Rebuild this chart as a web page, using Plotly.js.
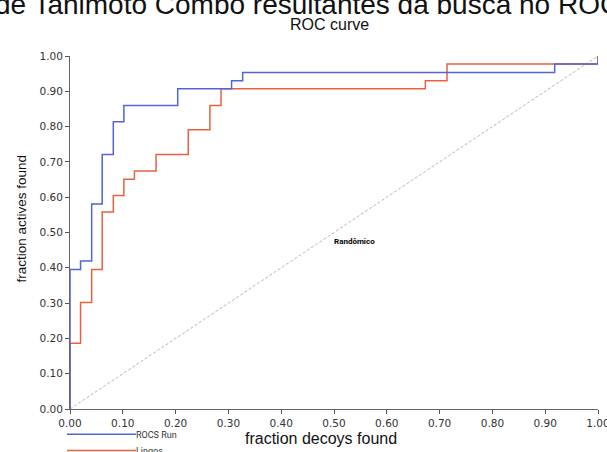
<!DOCTYPE html>
<html>
<head>
<meta charset="utf-8">
<script src="https://cdn.plot.ly/plotly-3.0.1.min.js"></script>
<style>html,body{margin:0;padding:0;background:#fff;}#chart{width:607px;height:452px;}</style>
</head>
<body>
<div id="chart"></div>
<script>
// ROC data
var fprRocs = [0, 0, 0.020, 0.041, 0.061, 0.082, 0.102, 0.204, 0.306, 0.327, 0.918, 1.0];
var tprRocs = [0, 0.395, 0.419, 0.581, 0.721, 0.814, 0.860, 0.907, 0.930, 0.953, 0.977, 1.0];
var fprLingos = [0, 0, 0.020, 0.041, 0.061, 0.082, 0.102, 0.122, 0.163, 0.224, 0.265, 0.286, 0.673, 0.714, 1.0];
var tprLingos = [0, 0.186, 0.302, 0.395, 0.558, 0.605, 0.651, 0.674, 0.721, 0.791, 0.860, 0.907, 0.930, 0.977, 1.0];
var randX = [0, 1];
var randY = [0, 1];
var seriesNames = ["ROCS Run", "Lingos"];
var tickVals = [0, 0.1, 0.2, 0.3, 0.4, 0.5, 0.6, 0.7, 0.8, 0.9, 1.0];

var blue = "#4e66d8";
var red = "#e8623e";

// pixel helpers for paper positioning (plot area 70..598 x 56..409)
var L = 70, R = 9, T = 56, B = 43, W = 607 - L - R, H = 452 - T - B;
function px(x) { return (x - L) / W; }
function py(y) { return (T + H - y) / H; }

var traces = [
  {x: randX, y: randY, mode: "lines", name: "Randômico", line: {color: "#b8b8b8", width: 1, dash: "3px,2px"}, hoverinfo: "skip", showlegend: false},
  {x: fprLingos, y: tprLingos, mode: "lines", name: seriesNames[1], line: {color: red, width: 1.5, shape: "hv"}, showlegend: false},
  {x: fprRocs, y: tprRocs, mode: "lines", name: seriesNames[0], line: {color: blue, width: 1.5, shape: "hv"}, showlegend: false}
];

var tickFont = {family: "DejaVu Sans", size: 10.5, color: "#333"};
var layout = {
  width: 607, height: 452,
  margin: {l: L, r: R, t: T, b: B},
  paper_bgcolor: "#fff", plot_bgcolor: "#fff",
  showlegend: false,
  xaxis: {range: [0, 1], tickvals: tickVals, tickformat: ".2f", showgrid: false, zeroline: false,
          showline: true, linecolor: "#666", linewidth: 1, ticks: "outside", ticklen: 4, tickcolor: "#555",
          tickfont: tickFont, ticklabeloverflow: "allow"},
  yaxis: {range: [0, 1], tickvals: tickVals, tickformat: ".2f", showgrid: false, zeroline: false,
          showline: true, linecolor: "#666", linewidth: 1, ticks: "outside", ticklen: 4, tickcolor: "#555",
          tickfont: tickFont, ticklabeloverflow: "allow"},
  xaxis2: {range: [0, 1], tickvals: tickVals, overlaying: "x", anchor: "y", side: "bottom", showgrid: false,
           zeroline: false, showline: false, ticks: "inside", ticklen: 4, tickcolor: "#555", showticklabels: false},
  yaxis2: {range: [0, 1], tickvals: tickVals, overlaying: "y", anchor: "x", side: "left", showgrid: false,
           zeroline: false, showline: false, ticks: "inside", ticklen: 3, tickcolor: "#555", showticklabels: false},
  shapes: [
    {type: "line", xref: "paper", yref: "paper", x0: px(67), x1: px(136), y0: py(434.3), y1: py(434.3), line: {color: blue, width: 1.5}},
    {type: "line", xref: "paper", yref: "paper", x0: px(67), x1: px(136), y0: py(450.5), y1: py(450.5), line: {color: red, width: 1.5}}
  ],
  annotations: [
    {text: "de Tanimoto Combo resultantes da busca no ROCS", xref: "paper", yref: "paper", x: px(-7), y: py(4.2),
     xanchor: "left", yanchor: "middle", showarrow: false, font: {family: "Liberation Sans", size: 28, color: "#111"}},
    {text: "ROC curve", xref: "paper", yref: "paper", x: px(329), y: py(24.5), xanchor: "center", yanchor: "middle",
     showarrow: false, font: {family: "Liberation Sans", size: 16, color: "#111"}},
    {text: "fraction decoys found", xref: "paper", yref: "paper", x: px(321), y: py(438.6), xanchor: "center", yanchor: "middle",
     showarrow: false, font: {family: "Liberation Sans", size: 16, color: "#111"}},
    {text: "fraction actives found", xref: "paper", yref: "paper", x: px(20.5), y: py(219), xanchor: "center", yanchor: "middle",
     textangle: -90, showarrow: false, font: {family: "Liberation Sans", size: 13.5, color: "#111"}},
    {text: "<b>Randômico</b>", xref: "paper", yref: "paper", x: px(354), y: py(241), xanchor: "center", yanchor: "middle",
     showarrow: false, font: {family: "Roboto", size: 8, color: "#000"}},
    {text: seriesNames[0], xref: "paper", yref: "paper", x: px(135), y: py(434.5), xanchor: "left", yanchor: "middle",
     showarrow: false, borderpad: 0, font: {family: "Roboto", size: 9, color: "#333"}},
    {text: seriesNames[1], xref: "paper", yref: "paper", x: px(135), y: py(451), xanchor: "left", yanchor: "middle",
     showarrow: false, borderpad: 0, font: {family: "Roboto", size: 9, color: "#333"}}
  ]
};

Plotly.newPlot("chart", traces, layout, {staticPlot: true, displayModeBar: false});
</script>
</body>
</html>
